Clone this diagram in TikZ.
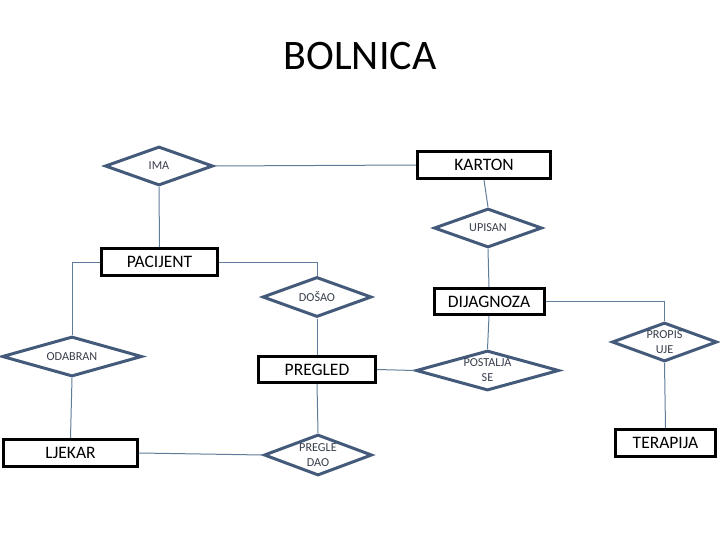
\documentclass[tikz,border=0pt]{standalone}
\usepackage{fontspec}
\setmainfont{Carlito}
\usepackage{xcolor}
\usetikzlibrary{shapes.geometric}

\definecolor{relblue}{RGB}{68,90,122}
\definecolor{linkblue}{RGB}{95,125,155}
\definecolor{reltext}{RGB}{55,62,75}

\begin{document}
\begin{tikzpicture}[
    x=1pt, y=-1pt,
    entity/.style={
        draw=black,
        line width=3pt,
        minimum height=27pt,
        inner sep=0pt,
        font=\fontsize{17.5}{19}\selectfont
    },
    rel/.style={
        diamond,
        draw=relblue,
        line width=3pt,
        inner sep=0pt,
        align=center,
        text=reltext,
        font=\fontsize{12.2}{15}\selectfont
    },
    link/.style={draw=linkblue, line width=1pt}
]
\useasboundingbox (0,0) rectangle (720,540);

% --- Title ---
\node[font=\fontsize{42}{44}\selectfont] (title) at (360,56) {BOLNICA};

% --- Entities ---
\node[entity, minimum width=133pt] (karton) at (484,165) {KARTON};
\node[entity, minimum width=116pt] (pacijent) at (159.5,262) {PACIJENT};
\node[entity, minimum width=110pt, minimum height=26pt] (dijagnoza) at (489,301.5) {DIJAGNOZA};
\node[entity, minimum width=117pt, minimum height=26pt] (pregled) at (317,369.5) {PREGLED};
\node[entity, minimum width=134pt] (ljekar) at (70.5,453) {LJEKAR};
\node[entity, minimum width=100pt] (terapija) at (665.5,443) {TERAPIJA};

% --- Relationships ---
\node[rel, aspect=2.7, minimum width=108pt, minimum height=39pt] (ima) at (159,166) {IMA};
\node[rel, aspect=2.7, minimum width=108pt, minimum height=39pt] (upisan) at (488,228) {UPISAN};
\node[rel, aspect=2.7, minimum width=109pt, minimum height=40pt] (dosao) at (317,297) {DOŠAO};
\node[rel, aspect=3.5, minimum width=140pt, minimum height=40pt] (odabran) at (72,356.5) {ODABRAN};
\node[rel, aspect=3.5, minimum width=143pt, minimum height=40pt] (postalja) at (487.5,370.5) {POSTALJA\\SE};
\node[rel, aspect=2.6, minimum width=105pt, minimum height=39pt] (propis) at (664.5,342) {PROPIS\\UJE};
\node[rel, aspect=2.63, minimum width=108pt, minimum height=41pt] (pregledao) at (318,455) {PREGLE\\DAO};

% --- Connections ---
\draw[link] (ima.east) -- (karton.west);
\draw[link] (ima.south) -- (pacijent.north);
\draw[link] (karton.south) -- (upisan.north);
\draw[link] (upisan.south) -- (dijagnoza.north);

\draw[link] (pacijent.west) -| (odabran.north);
\draw[link] (pacijent.east) -| (dosao.north);
\draw[link] (dosao.south) -- (pregled.north);

\draw[link] (pregled.east) -- (postalja.west);
\draw[link] (dijagnoza.south) -- (postalja.north);
\draw[link] (dijagnoza.east) -| (propis.north);
\draw[link] (propis.south) -- (terapija.north);

\draw[link] (odabran.south) -- (ljekar.north);
\draw[link] (pregled.south) -- (pregledao.north);
\draw[link] (ljekar.east) -- (pregledao.west);

\end{tikzpicture}
\end{document}
